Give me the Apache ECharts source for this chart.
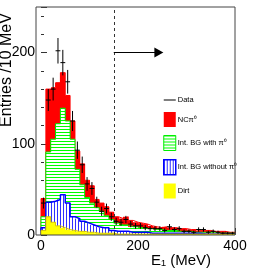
<!DOCTYPE html>
<html><head><meta charset="utf-8">
<script src="https://cdn.jsdelivr.net/npm/echarts@6/dist/echarts.min.js"></script>
<style>html,body{margin:0;padding:0;background:#fff}#c{width:275px;height:275px}</style>
</head><body><div id="c"></div>
<script>
// ---- data (10 MeV bins) ----
const binStarts = [0,10,20,30,40,50,60,70,80,90,100,110,120,130,140,150,160,170,180,190,200,210,220,230,240,250,260,270,280,290,300,310,320,330,340,350,360,370,380,390];
const binWidth = 10;
// cumulative (overlaid) histograms
const totalNCpi0 = [40,160,162,167,178,153,125,92,78,60,54,39,35,31,25,20,18,20,16,14,13,12,10,9,8,9,8,8,7,7,6,6,5,5,5,4,4,4,3,3];
const intBGwithPi0 = [20,91,105,122,139,125,105,72,55,41,35,30,26,21,17,13,11,11,9,9,8,7,7,6,6,5,5,5,4,4,4,3,3,3,3,3,2,2,2,2];
const intBGwithoutPi0 = [8,36,37,39,44,35,20,18,15,13,11,9,8,8,5,4,4,4,3,3,3,3,2,2,2,2,2,2,2,2,2,2,2,1,1,1,1,1,1,1];
const dirt = [5,20,14,10,8,6,5,4,4,3,3,2,2,2,2,1,1,1,1,1,1,1,1,1,1,1,1,1,1,1,1,1,1,1,1,1,1,1,1,1];
const dataVals = [35,148,160,202,189,168,125,93,77,56,51,36,26,29,20,15,14,17,12,10,10,8,7,7,7,5,9,6,7,4,4,3,6,6,3,4,3,2,2,2];
const dataErr = [6,12,12.5,14,14,13,11,9.5,9,7.5,7,6,5,5.4,4.5,4,3.7,4,3.5,3.2,3.2,2.8,2.6,2.6,2.6,2.2,3,2.4,2.6,2,2,1.7,2.4,2.4,1.7,2,1.7,1.4,1.4,1.4];
const xTicks = [0,200,400];
const yTicks = [0,100,200];
const cutValue = 150;
const arrowY = 200;
const arrowEnd = 243;
const seriesNames = ['Data','NCπ⁰','Int. BG with π⁰','Int. BG without π⁰','Dirt'];

const SANS = "'Liberation Sans',Arial,Helvetica,sans-serif";

function hatch(color, vertical){
  const c = document.createElement('canvas'); c.width = 3; c.height = 3;
  const g = c.getContext('2d');
  g.fillStyle = '#fff'; g.fillRect(0,0,3,3);
  g.fillStyle = color;
  if (vertical) g.fillRect(0,0,1,3); else g.fillRect(0,0,3,1);
  return {image: c, repeat: 'repeat'};
}
const greenPat = hatch('#00ff00', false);
const bluePat = hatch('#3030ff', true);

function stepData(vals){
  const n = vals.length;
  const d = [[binStarts[0], 0]];
  vals.forEach((v,i)=>d.push([binStarts[i], v]));
  d.push([binStarts[n-1]+binWidth, vals[n-1]]);
  d.push([binStarts[n-1]+binWidth, 0]);
  return d;
}
function fillSeries(name, vals, fill, z){
  return {type:'custom', name, silent:true, animation:false, z,
    data: vals.map((v,i)=>[binStarts[i], binStarts[i]+binWidth, v]),
    encode:{x:[0,1], y:2},
    renderItem:(params, api)=>{
      const a = api.coord([api.value(0), api.value(2)]);
      const b = api.coord([api.value(1), 0]);
      const x0 = Math.round(a[0]), x1 = Math.round(b[0]);
      return {type:'rect', shape:{x:x0, y:a[1], width:x1-x0, height:b[1]-a[1]},
        style:{fill: fill, stroke: null}};
    }};
}
function outlineSeries(name, vals, color, width, z){
  return {type:'line', name: name+' outline', step:'end', data: stepData(vals), symbol:'none',
    silent:true, animation:false, z, lineStyle:{color, width}, itemStyle:{color}};
}

const chart = echarts.init(document.getElementById('c'), null, {renderer:'canvas'});
const series = [
  fillSeries(seriesNames[1], totalNCpi0, '#ff0000', 1),
  outlineSeries(seriesNames[1], totalNCpi0, '#ff0000', 1, 1),
  fillSeries(seriesNames[2], intBGwithPi0, greenPat, 2),
  outlineSeries(seriesNames[2], intBGwithPi0, '#00ee00', 1, 2),
  fillSeries(seriesNames[3], intBGwithoutPi0, bluePat, 3),
  outlineSeries(seriesNames[3], intBGwithoutPi0, '#0000ff', 1.5, 3),
  fillSeries(seriesNames[4], dirt, '#ffff00', 4),
  outlineSeries(seriesNames[4], dirt, '#d8c800', 1, 4),
];
series.push({type:'custom', name: seriesNames[0], animation:false, silent:true, z:5,
  itemStyle:{color:'#555'},
  data: dataVals.map((v,i)=>[binStarts[i], binStarts[i]+binWidth, v, dataErr[i]]),
  encode:{x:[0,1], y:2},
  renderItem:(params, api)=>{
    const x0=api.value(0), x1=api.value(1), v=api.value(2), e=api.value(3);
    const pL=api.coord([x0,v]), pR=api.coord([x1,v]);
    const xc=(x0+x1)/2;
    const pT=api.coord([xc,v+e]), pB=api.coord([xc,Math.max(0,v-e)]);
    return {type:'group', children:[
      {type:'line', shape:{x1:pL[0],y1:pL[1],x2:pR[0],y2:pR[1]}, style:{stroke:'#000', lineWidth:1}},
      {type:'line', shape:{x1:pT[0],y1:pT[1],x2:pB[0],y2:pB[1]}, style:{stroke:'#000', lineWidth:1}}
    ]};
  }});
series.push({type:'line', name:'cut', data:[], z:6, silent:true, animation:false,
  markLine:{silent:true, animation:false, symbol:'none', label:{show:false},
    data:[
      {xAxis: cutValue, lineStyle:{color:'#333', type:[3,3], width:1}},
      [{coord:[cutValue, arrowY], symbol:'none', lineStyle:{color:'#000', type:'solid', width:1.2}},
       {coord:[arrowEnd, arrowY], symbol:'triangle', symbolSize:[10,9]}]
    ]}});

chart.setOption({
  animation:false,
  grid:{left:41, right:40, top:7, bottom:40},
  xAxis:[
    {type:'value', min:0, max:400, interval:200, position:'bottom',
     axisLine:{show:false}, splitLine:{show:false},
     axisTick:{show:true, inside:true, length:7, lineStyle:{color:'#333'}},
     axisLabel:{margin:4, fontSize:14, fontFamily:SANS, color:'#000',
       formatter:v=> xTicks.indexOf(v)>=0 ? String(v) : ''}},
    {type:'value', min:0, max:400, interval:20, position:'bottom',
     axisLine:{show:false}, splitLine:{show:false}, axisLabel:{show:false},
     axisTick:{show:true, inside:true, length:4, lineStyle:{color:'#333'}}}
  ],
  yAxis:[
    {type:'value', min:0, max:250, interval:100, offset:5,
     axisLine:{show:false}, splitLine:{show:false},
     axisTick:{show:true, inside:true, length:6, lineStyle:{color:'#333'}},
     axisLabel:{margin:1, fontSize:14, fontFamily:SANS, color:'#000', padding:[4,0,0,0],
       formatter:v=> yTicks.indexOf(v)>=0 ? String(v) : ''}},
    {type:'value', min:0, max:250, interval:20, offset:5, position:'left',
     axisLine:{show:false}, splitLine:{show:false}, axisLabel:{show:false},
     axisTick:{show:true, inside:true, length:3, lineStyle:{color:'#333'}}}
  ],
  legend:{orient:'vertical', left:158, top:91, itemWidth:12, itemHeight:15, itemGap:8,
    selectedMode:false,
    textStyle:{fontSize:7.5, fontFamily:SANS, color:'#000', padding:[0,0,0,-3]},
    data:[
      {name:seriesNames[0], icon:'path://M0,7H12V8.5H0Z', itemStyle:{color:'#555'}},
      {name:seriesNames[1], icon:'rect', itemStyle:{color:'#ff0000', borderWidth:0}},
      {name:seriesNames[2], icon:'rect', itemStyle:{color:greenPat, borderColor:'#00ee00', borderWidth:1}},
      {name:seriesNames[3], icon:'rect', itemStyle:{color:bluePat, borderColor:'#0000ff', borderWidth:1.5}},
      {name:seriesNames[4], icon:'rect', itemStyle:{color:'#ffff00', borderWidth:0}}
    ]},
  graphic:[
    {type:'rect', shape:{x:36, y:7, width:199, height:228}, style:{fill:'none', stroke:'#444', lineWidth:1}, z:100, silent:true},
    {type:'text', x:7, y:70, rotation:Math.PI/2, silent:true,
     style:{text:'Entries /10 MeV', font:'16px '+SANS, fill:'#000', align:'center', verticalAlign:'middle'}},
    {type:'text', x:181, y:261, silent:true,
     style:{text:'E₁ (MeV)', font:'15px '+SANS, fill:'#000', align:'center', verticalAlign:'middle'}}
  ],
  series
});
</script></body></html>
